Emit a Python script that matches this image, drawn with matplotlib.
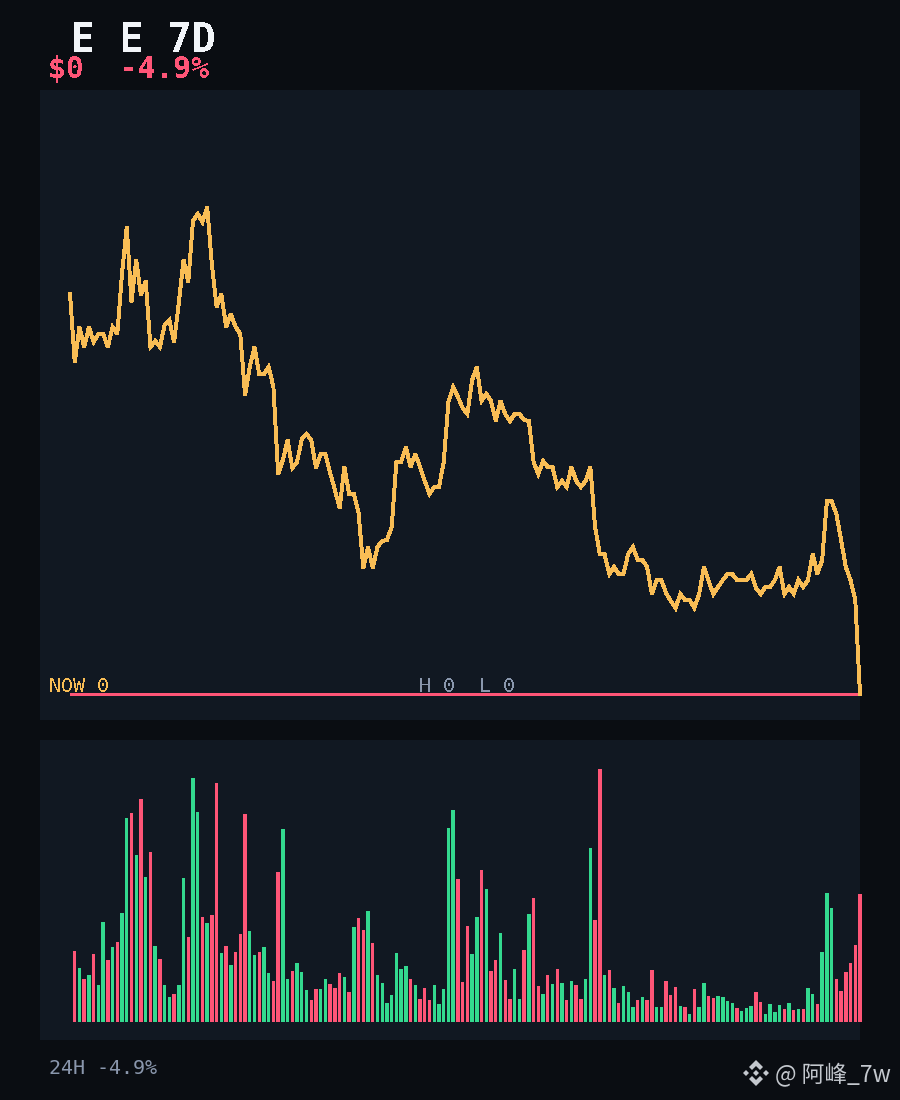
import matplotlib
matplotlib.use("Agg")
import matplotlib.pyplot as plt
from matplotlib.patches import Polygon
from matplotlib.transforms import IdentityTransform

# Price line (height above the low line, in chart units)
price_top = [400,332,367,347,367,352,360,360,347,367,360,421,467,392,434,399,413,347,353,347,369,374,352,391,434,412,473,480,472,487,
             429,387,400,367,380,367,360,299,327,347,320,320,327,307,220,234,254,226,232,255,260,254,226,240,240,221,204,186,227,200,
             200,181,126,147,126,147,153,154,167,232,232,247,227,240,227,213,200,207,207,232,292,307,297,286,280,314,327,293,300,293,
             273,293,280,273,280,280,274,273,232,220,233,227,227,207,213,207,227,213,207,213,227,167,140,140,120,127,120,120,140,147,
             134,134,127,100,114,114,101,93,86,100,94,94,86,100,127,113,100,107,114,120,120,114,114,114,120,106,100,107,107,114,127,100,
             107,100,114,107,114,140,120,134,193,193,180,154,127,114,94,0]

# Volume bars
volume = [71,54,43,47,68,37,100,62,75,80,109,204,209,167,223,145,170,76,63,37,25,28,37,144,85,244,210,105,99,107,239,69,76,57,70,88,208,91,67,70,75,49,41,150,193,43,51,59,50,32,22,33,33,43,38,
          34,49,45,30,95,104,92,111,79,47,39,19,27,69,53,56,43,37,23,34,22,37,18,33,194,212,143,40,96,68,105,152,133,51,62,89,42,23,53,23,72,108,124,36,28,47,38,53,39,22,41,37,23,43,174,102,253,
          47,52,34,19,36,30,15,22,25,22,52,15,15,41,27,35,16,15,8,33,15,39,26,24,26,25,21,19,14,11,14,16,30,20,8,18,10,17,13,19,12,13,13,34,28,18,70,129,114,43,31,50,59,77,128]
volume_dir = ("RGRGRGGRGRGGRGRGRGRGGRGGRGGRGRRGRGRRRGGRGGRRGGRGGGRRGGR"
              "RRGRGRRGRGGGGGGGRGRRRGGGGGRRRGGRGRRGRRGGRGRRGRGRGRGRRGGRR"
              "GRGRGGGRGRRGGRRRGRGRGGRRGGGGRGGGRRGGGGRGRGRGGRGGGRRRRR")

title = "E E 7D"
subtitle = "$0  -4.9%"
now_label = "NOW 0"
range_label = "H 0  L 0"
footer = "24H -4.9%"
watermark = "@ 阿峰_7w"

BG = "#0a0d12"
PANEL = "#111822"
YELLOW = "#f9bd55"
RED = "#ff5577"
GREEN = "#33d98f"
SLATE = "#8a97ad"

W, H = 900, 1100
fig = plt.figure(figsize=(9, 11), dpi=100, facecolor=BG)

def panel(x0, y0, x1, y1):
    ax = fig.add_axes([x0 / W, 1 - y1 / H, (x1 - x0) / W, (y1 - y0) / H], facecolor=PANEL)
    ax.set_xticks([]); ax.set_yticks([])
    for s in ax.spines.values():
        s.set_visible(False)
    return ax

step = 790 / 167
xlim = (-30 / step, 790 / step)

ax1 = panel(40, 90, 860, 720)
xs = list(range(len(price_top)))
ax1.plot(xs, [0] * len(xs), color=RED, lw=2.1, antialiased=False, clip_on=False, solid_capstyle="butt")
ax1.plot(xs, price_top, color=YELLOW, lw=2.1, antialiased=False, clip_on=False, solid_joinstyle="miter")
ax1.set_xlim(*xlim)
ax1.set_ylim(-26, 604)

ax2 = panel(40, 740, 860, 1040)
colors = [RED if c == "R" else GREEN for c in volume_dir]
ax2.bar([i + 1 for i in range(len(volume))], volume, width=2.4 / step, color=colors,
        antialiased=False, clip_on=False, linewidth=0, snap=False)
ax2.set_xlim(*xlim)
ax2.set_ylim(-18, 282)

def put(x, y, s, size, color, aa=False, **kw):
    kw.setdefault("family", "DejaVu Sans Mono")
    fig.text(x / W, 1 - y / H, s, fontsize=size, color=color, va="baseline", ha="left",
             antialiased=aa, **kw)

put(71, 52, title, 28.8, "#f2f5f9", fontweight="bold")
put(48, 78, subtitle, 21.4, RED, fontweight="bold")
put(49, 692, now_label, 14.4, YELLOW)
put(419, 692, range_label, 14.4, SLATE)
put(49, 1074, footer, 14.4, SLATE, aa=True)
put(775, 1082, watermark, 16.4, "#c4c8ce", aa=True, family=["Noto Sans CJK SC", "DejaVu Sans"])

# Watermark logo
cx, cy = 756, H - 1073
ic = "#c4c8ce"
shapes = [
    [(0, 13), (7, 6), (4, 3), (0, 7), (-4, 3), (-7, 6)],
    [(0, -13), (7, -6), (4, -3), (0, -7), (-4, -3), (-7, -6)],
    [(0, 3), (3, 0), (0, -3), (-3, 0)],
    [(-10, 3), (-7, 0), (-10, -3), (-13, 0)],
    [(10, 3), (13, 0), (10, -3), (7, 0)],
]
for pts in shapes:
    fig.add_artist(Polygon([(cx + a, cy + b) for a, b in pts], closed=True, facecolor=ic,
                           edgecolor="none", transform=IdentityTransform()))

fig.savefig("out.png", dpi=100, facecolor=BG)
